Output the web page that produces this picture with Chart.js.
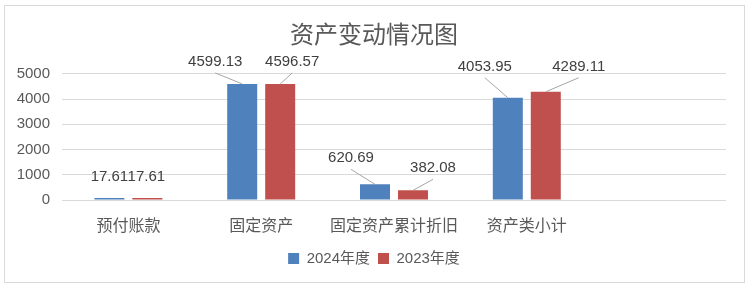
<!DOCTYPE html>
<html>
<head>
<meta charset="utf-8">
<script src="https://cdn.jsdelivr.net/npm/chart.js@4"></script>
<style>
  html, body { margin: 0; padding: 0; background: #fff; }
  #wrap { position: relative; width: 748px; height: 286px; }
</style>
</head>
<body>
<div id="wrap"><canvas id="assetChart" width="748" height="286"></canvas></div>
<script>
// Data
const categories = ['预付账款', '固定资产', '固定资产累计折旧', '资产类小计'];
const values2024 = [17.61, 4599.13, 620.69, 4053.95];
const values2023 = [17.61, 4596.57, 382.08, 4289.11];
const seriesNames = ['2024年度', '2023年度'];
const yTicks = [0, 1000, 2000, 3000, 4000, 5000];

// label offsets from bar top (pixels), like dragged labels in the original
const labelShift = [
    [[0, -21], [-27, -22], [-24, -26], [-23, -31]],
    [[-1, -21], [12, -22], [20, -22], [33, -25]]
];

const FONT = '"Liberation Sans", "Noto Sans CJK SC", sans-serif';
const textColor = '#595959';

// border around the whole picture
const frame = {
    id: 'frame',
    beforeDraw(chart) {
        const c = chart.ctx;
        c.save();
        c.strokeStyle = '#d9d9d9';
        c.lineWidth = 1;
        c.strokeRect(4.5, 5.5, 740, 277);
        c.restore();
    }
};

// title and legend are centred on the whole picture, not the padded box
const centreBlocks = {
    id: 'centreBlocks',
    afterLayout(chart) {
        [chart.titleBlock, chart.legend].forEach(b => {
            if (!b) return;
            b.left += 11;
            b.right += 11;
        });
    }
};

// value labels with leader lines
const valueLabels = {
    id: 'valueLabels',
    afterDatasetsDraw(chart) {
        const c = chart.ctx;
        c.save();
        c.font = '15px ' + FONT;
        c.textAlign = 'center';
        c.textBaseline = 'middle';
        chart.data.datasets.forEach((ds, i) => {
            chart.getDatasetMeta(i).data.forEach((bar, j) => {
                const [dx, dy] = labelShift[i][j];
                const lx = bar.x + dx;
                const ly = bar.y + dy;
                if (Math.abs(dx) > 5) {
                    c.strokeStyle = '#a6a6a6';
                    c.lineWidth = 1;
                    c.beginPath();
                    c.moveTo(lx, ly + 11);
                    c.lineTo(bar.x, bar.y);
                    c.stroke();
                }
                c.fillStyle = '#404040';
                c.fillText(ds.data[j].toFixed(2), lx, ly);
            });
        });
        c.restore();
    }
};

const ctx = document.getElementById('assetChart').getContext('2d');
const assetChart = new Chart(ctx, {
    type: 'bar',
    data: {
        labels: [...categories, ''],
        datasets: [{
            label: seriesNames[0],
            data: values2024,
            backgroundColor: '#4f81bd',
            minBarLength: 2
        }, {
            label: seriesNames[1],
            data: values2023,
            backgroundColor: '#c0504d',
            minBarLength: 2
        }]
    },
    options: {
        responsive: false,
        animation: false,
        categoryPercentage: 0.572,
        barPercentage: 0.79,
        layout: {
            padding: { top: 5, right: 22, bottom: 10, left: 0 }
        },
        plugins: {
            title: {
                display: true,
                text: '资产变动情况图',
                color: textColor,
                font: { family: FONT, size: 24, weight: 'normal' },
                padding: { top: 17, bottom: 23 }
            },
            legend: {
                position: 'bottom',
                labels: {
                    color: textColor,
                    font: { family: FONT, size: 15 },
                    boxWidth: 11,
                    boxHeight: 11,
                    padding: 8
                }
            },
            tooltip: { enabled: false }
        },
        scales: {
            x: {
                grid: { display: false },
                border: { display: false },
                ticks: {
                    color: textColor,
                    font: { family: FONT, size: 16 },
                    padding: 9,
                    maxRotation: 0,
                    autoSkip: false
                },
                afterFit(scale) { scale.height = 43; }
            },
            y: {
                min: yTicks[0],
                max: yTicks[yTicks.length - 1],
                grid: { color: '#d9d9d9', drawTicks: false },
                border: { display: false },
                afterBuildTicks(scale) {
                    scale.ticks = yTicks.map(v => ({ value: v }));
                },
                ticks: {
                    color: textColor,
                    font: { family: FONT, size: 15 },
                    padding: 12,
                    callback: v => String(v)
                },
                afterFit(scale) { scale.width = 62; }
            }
        }
    },
    plugins: [frame, centreBlocks, valueLabels]
});
</script>
</body>
</html>
